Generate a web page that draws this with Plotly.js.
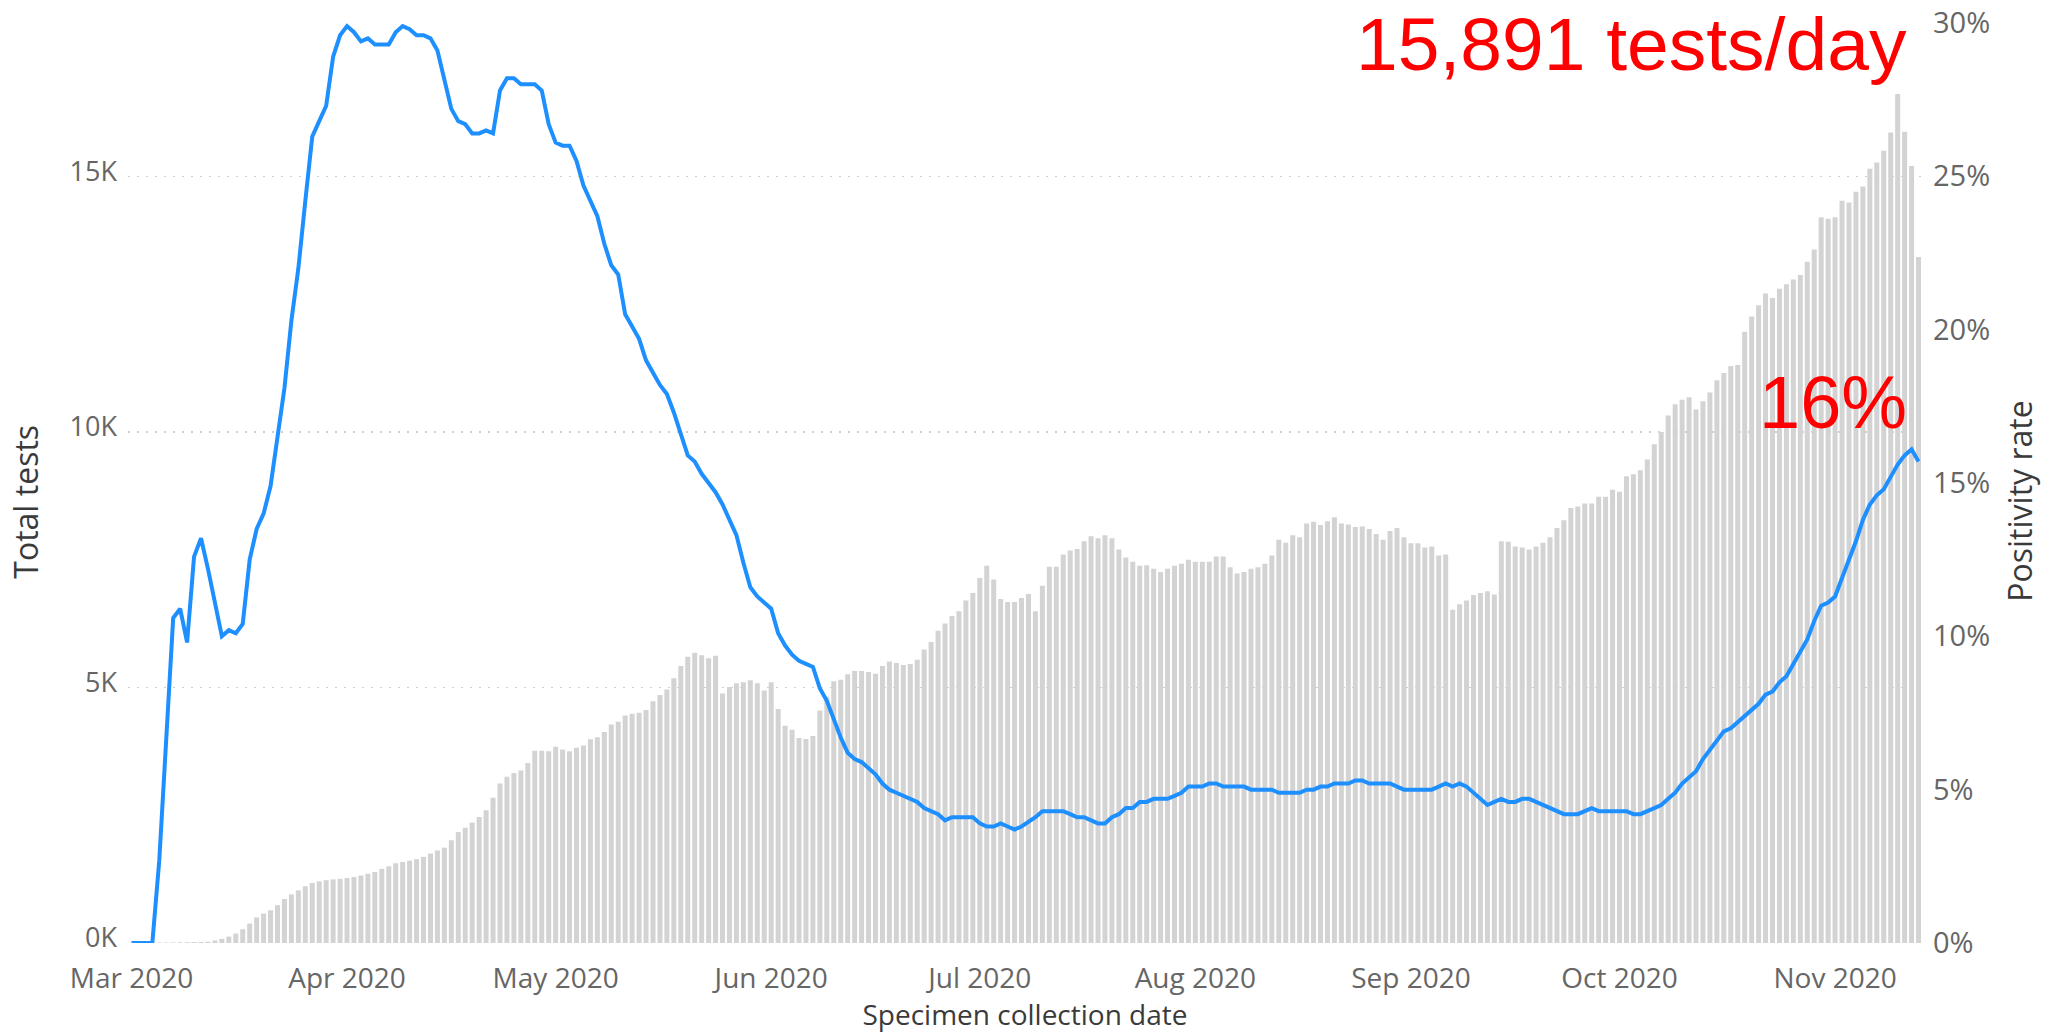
<!DOCTYPE html>
<html>
<head>
<meta charset="utf-8">
<script src="https://cdn.plot.ly/plotly-3.0.1.min.js"></script>
<style>html,body{margin:0;padding:0;background:#fff;}#chart{width:2049px;height:1033px;}</style>
</head>
<body>
<div id="chart"></div>
<script>
// Specimen collection dates (one per day)
const dates = [
"2020-03-01","2020-03-02","2020-03-03","2020-03-04","2020-03-05","2020-03-06","2020-03-07","2020-03-08","2020-03-09","2020-03-10",
"2020-03-11","2020-03-12","2020-03-13","2020-03-14","2020-03-15","2020-03-16","2020-03-17","2020-03-18","2020-03-19","2020-03-20",
"2020-03-21","2020-03-22","2020-03-23","2020-03-24","2020-03-25","2020-03-26","2020-03-27","2020-03-28","2020-03-29","2020-03-30","2020-03-31",
"2020-04-01","2020-04-02","2020-04-03","2020-04-04","2020-04-05","2020-04-06","2020-04-07","2020-04-08","2020-04-09","2020-04-10",
"2020-04-11","2020-04-12","2020-04-13","2020-04-14","2020-04-15","2020-04-16","2020-04-17","2020-04-18","2020-04-19","2020-04-20",
"2020-04-21","2020-04-22","2020-04-23","2020-04-24","2020-04-25","2020-04-26","2020-04-27","2020-04-28","2020-04-29","2020-04-30",
"2020-05-01","2020-05-02","2020-05-03","2020-05-04","2020-05-05","2020-05-06","2020-05-07","2020-05-08","2020-05-09","2020-05-10",
"2020-05-11","2020-05-12","2020-05-13","2020-05-14","2020-05-15","2020-05-16","2020-05-17","2020-05-18","2020-05-19","2020-05-20",
"2020-05-21","2020-05-22","2020-05-23","2020-05-24","2020-05-25","2020-05-26","2020-05-27","2020-05-28","2020-05-29","2020-05-30","2020-05-31",
"2020-06-01","2020-06-02","2020-06-03","2020-06-04","2020-06-05","2020-06-06","2020-06-07","2020-06-08","2020-06-09","2020-06-10",
"2020-06-11","2020-06-12","2020-06-13","2020-06-14","2020-06-15","2020-06-16","2020-06-17","2020-06-18","2020-06-19","2020-06-20",
"2020-06-21","2020-06-22","2020-06-23","2020-06-24","2020-06-25","2020-06-26","2020-06-27","2020-06-28","2020-06-29","2020-06-30",
"2020-07-01","2020-07-02","2020-07-03","2020-07-04","2020-07-05","2020-07-06","2020-07-07","2020-07-08","2020-07-09","2020-07-10",
"2020-07-11","2020-07-12","2020-07-13","2020-07-14","2020-07-15","2020-07-16","2020-07-17","2020-07-18","2020-07-19","2020-07-20",
"2020-07-21","2020-07-22","2020-07-23","2020-07-24","2020-07-25","2020-07-26","2020-07-27","2020-07-28","2020-07-29","2020-07-30","2020-07-31",
"2020-08-01","2020-08-02","2020-08-03","2020-08-04","2020-08-05","2020-08-06","2020-08-07","2020-08-08","2020-08-09","2020-08-10",
"2020-08-11","2020-08-12","2020-08-13","2020-08-14","2020-08-15","2020-08-16","2020-08-17","2020-08-18","2020-08-19","2020-08-20",
"2020-08-21","2020-08-22","2020-08-23","2020-08-24","2020-08-25","2020-08-26","2020-08-27","2020-08-28","2020-08-29","2020-08-30","2020-08-31",
"2020-09-01","2020-09-02","2020-09-03","2020-09-04","2020-09-05","2020-09-06","2020-09-07","2020-09-08","2020-09-09","2020-09-10",
"2020-09-11","2020-09-12","2020-09-13","2020-09-14","2020-09-15","2020-09-16","2020-09-17","2020-09-18","2020-09-19","2020-09-20",
"2020-09-21","2020-09-22","2020-09-23","2020-09-24","2020-09-25","2020-09-26","2020-09-27","2020-09-28","2020-09-29","2020-09-30",
"2020-10-01","2020-10-02","2020-10-03","2020-10-04","2020-10-05","2020-10-06","2020-10-07","2020-10-08","2020-10-09","2020-10-10",
"2020-10-11","2020-10-12","2020-10-13","2020-10-14","2020-10-15","2020-10-16","2020-10-17","2020-10-18","2020-10-19","2020-10-20",
"2020-10-21","2020-10-22","2020-10-23","2020-10-24","2020-10-25","2020-10-26","2020-10-27","2020-10-28","2020-10-29","2020-10-30","2020-10-31",
"2020-11-01","2020-11-02","2020-11-03","2020-11-04","2020-11-05","2020-11-06","2020-11-07","2020-11-08","2020-11-09","2020-11-10",
"2020-11-11","2020-11-12","2020-11-13"
];

// Total tests per day (bars)
const totalTests = [
// Mar
4,5,6,8,9,10,12,14,15,18,20,25,50,80,125,185,270,380,500,575,640,740,860,950,1030,1110,1175,1205,1230,1245,1255,
// Apr
1270,1290,1320,1355,1390,1450,1500,1560,1585,1610,1640,1685,1750,1810,1865,2010,2170,2255,2355,2465,2595,2840,3120,3255,3325,3375,3520,3760,3760,3750,
// May
3840,3785,3750,3820,3865,3985,4025,4130,4275,4330,4450,4485,4505,4560,4730,4850,4960,5180,5420,5600,5680,5630,5570,5620,4880,5010,5080,5100,5140,5080,4940,
// Jun
5100,4580,4250,4170,4010,3990,4050,4550,4820,5120,5150,5260,5320,5320,5300,5270,5420,5510,5480,5440,5460,5540,5740,5890,6110,6250,6400,6490,6700,6850,
// Jul
7140,7380,7110,6730,6670,6670,6750,6830,6490,6990,7360,7360,7600,7680,7710,7860,7960,7920,7980,7920,7700,7540,7460,7380,7390,7320,7260,7320,7380,7420,7500,
// Aug
7460,7460,7460,7560,7560,7350,7230,7260,7320,7350,7420,7580,7890,7830,7980,7940,8210,8240,8180,8250,8330,8210,8190,8140,8150,8100,8000,7890,8060,8120,7940,
// Sep
7820,7820,7740,7760,7580,7600,6520,6630,6700,6810,6850,6880,6820,7860,7850,7760,7740,7700,7760,7830,7940,8120,8270,8510,8540,8600,8600,8730,8730,8870,
// Oct
8830,9130,9170,9250,9460,9760,10000,10320,10540,10630,10680,10440,10600,10770,11010,11150,11290,11310,11960,12260,12480,12710,12620,12800,12890,12980,13070,13330,13570,14200,14170,
// Nov
14200,14520,14490,14700,14800,15150,15270,15500,15860,16610,15870,15200,13420
];

// Positivity rate, percent (line)
const positivityRate = [
// Mar
0,0,0,0,2.7,6.5,10.6,10.9,9.8,12.6,13.2,12.2,11.1,10.0,10.2,10.1,10.4,12.5,13.5,14.0,14.9,16.4,18.1,20.3,22.0,24.2,26.3,26.8,27.3,28.9,29.6,
// Apr
29.9,29.7,29.4,29.5,29.3,29.3,29.3,29.7,29.9,29.8,29.6,29.6,29.5,29.1,28.2,27.2,26.8,26.7,26.4,26.4,26.5,26.4,27.8,28.2,28.2,28.0,28.0,28.0,27.8,26.7,
// May
26.1,26.0,26.0,25.5,24.7,24.2,23.7,22.8,22.1,21.8,20.5,20.1,19.7,19.0,18.6,18.2,17.9,17.3,16.6,15.9,15.7,15.3,15.0,14.7,14.3,13.8,13.3,12.4,11.6,11.3,11.1,
// Jun
10.9,10.1,9.7,9.4,9.2,9.1,9.0,8.3,7.9,7.3,6.7,6.2,6.0,5.9,5.7,5.5,5.2,5.0,4.9,4.8,4.7,4.6,4.4,4.3,4.2,4.0,4.1,4.1,4.1,4.1,
// Jul
3.9,3.8,3.8,3.9,3.8,3.7,3.8,3.95,4.1,4.3,4.3,4.3,4.3,4.2,4.1,4.1,4.0,3.9,3.9,4.1,4.2,4.4,4.4,4.6,4.6,4.7,4.7,4.7,4.8,4.9,5.1,
// Aug
5.1,5.1,5.2,5.2,5.1,5.1,5.1,5.1,5.0,5.0,5.0,5.0,4.9,4.9,4.9,4.9,5.0,5.0,5.1,5.1,5.2,5.2,5.2,5.3,5.3,5.2,5.2,5.2,5.2,5.1,5.0,
// Sep
5.0,5.0,5.0,5.0,5.1,5.2,5.1,5.2,5.1,4.9,4.7,4.5,4.6,4.7,4.6,4.6,4.7,4.7,4.6,4.5,4.4,4.3,4.2,4.2,4.2,4.3,4.4,4.3,4.3,4.3,
// Oct
4.3,4.3,4.2,4.2,4.3,4.4,4.5,4.7,4.9,5.2,5.4,5.6,6.0,6.3,6.6,6.9,7.0,7.2,7.4,7.6,7.8,8.1,8.2,8.5,8.7,9.1,9.5,9.9,10.5,11.0,11.1,
// Nov
11.3,11.9,12.5,13.1,13.8,14.3,14.6,14.8,15.2,15.6,15.9,16.1,15.7
];

// Axis ticks
const testTickVals = [0, 5000, 10000, 15000];
const testTickText = ["0K", "5K", "10K", "15K"];
const rateTickVals = [0, 5, 10, 15, 20, 25, 30];
const rateTickText = ["0%", "5%", "10%", "15%", "20%", "25%", "30%"];

// Titles and callouts
const xTitle = "Specimen collection date";
const yTitle = "Total tests";
const y2Title = "Positivity rate";
const calloutTests = "15,891 tests/day";
const calloutRate = "16%";

const fam = "Open Sans, Noto Sans, sans-serif";
const tickColor = "#666666";
const titleColor = "#3a3a3a";

const traces = [
  {
    type: "bar",
    x: dates,
    y: totalTests,
    marker: {color: "#d3d3d3", line: {width: 0}},
    yaxis: "y",
    hoverinfo: "x+y"
  },
  {
    type: "scatter",
    mode: "lines",
    x: dates,
    y: positivityRate,
    line: {color: "#1E8FFF", width: 4},
    yaxis: "y2",
    hoverinfo: "x+y"
  }
];

const layout = {
  width: 2049,
  height: 1033,
  margin: {l: 128, r: 127, t: 23, b: 90, pad: 0},
  paper_bgcolor: "#ffffff",
  plot_bgcolor: "#ffffff",
  showlegend: false,
  bargap: 0.28,
  font: {family: fam},
  xaxis: {
    type: "date",
    range: ["2020-02-29 12:00", "2020-11-13 12:00"],
    tick0: "2020-03-01",
    dtick: "M1",
    tickformat: "%b %Y",
    ticks: "",
    ticklabelstandoff: 16,
    showgrid: false,
    zeroline: false,
    showline: false,
    tickfont: {family: fam, size: 28, color: tickColor},
    title: {text: xTitle, font: {family: fam, size: 28, color: titleColor}, standoff: 11},
    automargin: false
  },
  yaxis: {
    range: [0, 18000],
    tickvals: testTickVals,
    ticktext: testTickText,
    ticks: "",
    ticklabelstandoff: 10,
    ticklabelshift: -5,
    showgrid: true,
    gridcolor: "#cfcfcf",
    gridwidth: 1.5,
    griddash: "2px,7px",
    zeroline: false,
    showline: false,
    tickfont: {family: fam, size: 27, color: tickColor},
    automargin: false
  },
  yaxis2: {
    overlaying: "y",
    side: "right",
    range: [0, 30],
    tickvals: rateTickVals,
    ticktext: rateTickText,
    ticks: "",
    ticklabelstandoff: 10,
    showgrid: false,
    zeroline: false,
    showline: false,
    tickfont: {family: fam, size: 29, color: tickColor},
    automargin: false
  },
  annotations: [
    {
      xref: "paper", yref: "paper",
      x: -0.0569, y: 0.4796,
      xanchor: "center", yanchor: "middle",
      textangle: -90,
      text: yTitle,
      showarrow: false,
      font: {family: fam, size: 32, color: titleColor}
    },
    {
      xref: "paper", yref: "paper",
      x: 1.0546, y: 0.4807,
      xanchor: "center", yanchor: "middle",
      textangle: -90,
      text: y2Title,
      showarrow: false,
      font: {family: fam, size: 32, color: titleColor}
    },
    {
      xref: "paper", yref: "paper",
      x: 0.9925, y: 1.0245,
      xanchor: "right", yanchor: "top",
      text: calloutTests,
      showarrow: false,
      font: {family: "Liberation Sans, Arial, sans-serif", size: 75, color: "#FF0000"}
    },
    {
      xref: "paper", yref: "paper",
      x: 0.9925, y: 0.588,
      xanchor: "right", yanchor: "middle",
      text: calloutRate,
      showarrow: false,
      font: {family: "Liberation Sans, Arial, sans-serif", size: 74, color: "#FF0000"}
    }
  ]
};

Plotly.newPlot("chart", traces, layout, {displayModeBar: false, staticPlot: true});
</script>
</body>
</html>
